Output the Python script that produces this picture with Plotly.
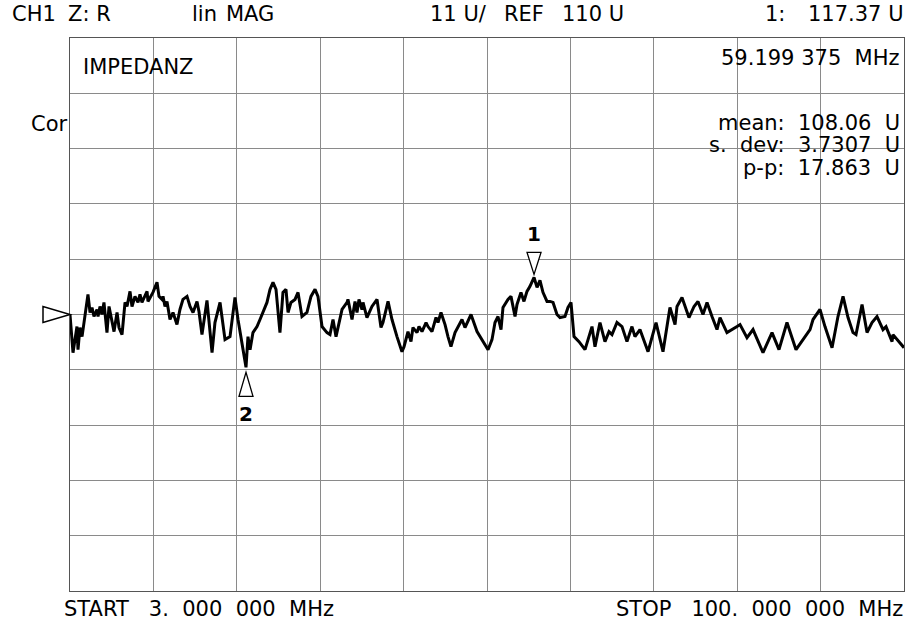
import plotly.graph_objects as go

# ---- data ----
freq_mhz = [
    3.00, 3.35, 3.81, 3.93, 4.16, 4.40, 5.09, 5.33, 5.56, 5.79, 6.14, 6.26, 6.49, 6.72, 6.95,
    7.30, 7.54, 7.88, 8.12, 8.47, 8.70, 9.05, 9.40, 9.63, 9.98, 10.21, 10.56, 10.91, 11.14,
    11.37, 11.96, 12.07, 12.65, 13.12, 13.35, 13.70, 13.82, 14.05, 14.28, 14.63, 14.98, 15.44,
    15.79, 16.14, 16.61, 16.96, 17.31, 17.77, 18.00, 18.35, 18.93,
    19.52, 19.86, 20.45, 21.03, 21.61, 22.19, 22.54, 23.47, 23.70, 23.94, 24.28, 24.75, 25.10,
    25.45, 25.91, 26.26, 26.61, 26.96, 27.42, 27.77, 28.12, 28.36, 28.70, 29.17, 29.52, 29.98,
    30.56, 31.03, 31.50, 31.84, 32.31, 32.89, 33.24, 33.59, 33.94, 34.64, 35.22,
    35.33, 35.80, 36.15, 36.38, 36.61, 36.96, 37.08, 37.54, 38.12, 38.71, 39.17, 39.40, 39.99,
    40.45, 41.03, 41.61, 41.85, 42.31, 42.66, 42.89, 43.36, 43.59, 43.94, 44.41, 44.64, 45.10,
    45.57, 45.80, 46.15, 46.62, 46.96, 47.31, 47.78, 48.36, 48.59, 48.94, 49.64, 50.34, 50.92,
    51.62,
    52.08, 52.43, 52.78, 53.13, 53.36, 53.94, 54.29, 54.76, 54.99, 55.45, 55.80, 56.15, 56.50,
    56.97, 57.32, 57.66, 58.01, 58.48, 58.83, 59.18, 59.64, 59.99, 60.57, 60.92, 61.27, 61.62,
    62.20, 62.90, 63.71, 64.06, 64.64,
    65.22, 65.69, 66.04, 66.62, 67.20, 67.78, 68.36, 68.71, 69.29, 70.23, 71.16, 71.97, 72.78,
    73.37, 73.60, 74.18, 74.99, 75.58, 76.04, 76.62, 77.09, 77.67, 78.25, 78.60, 79.41, 80.58,
    80.93, 81.74, 82.44, 83.60, 84.65, 85.46, 86.39, 87.44, 88.25, 89.07, 89.42, 90.23, 90.81,
    91.63, 92.32, 92.91, 93.49, 94.07, 94.42, 95.12, 95.70, 96.28, 96.86, 97.56, 97.91, 98.61,
    98.72, 100.00,
]
impedance_u = [
    110.0, 102.4, 107.6, 103.0, 107.4, 105.6, 114.0, 110.4, 111.4, 109.6, 111.0, 109.6, 111.6,
    110.0, 112.4, 106.4, 111.6, 109.0, 106.6, 110.4, 107.4, 106.0, 112.4, 111.6, 114.6, 111.6,
    113.6, 112.4, 114.0, 112.4, 114.6, 112.6, 114.4, 116.4, 113.6, 113.0, 113.6, 111.6, 112.6,
    109.0, 110.4, 108.0, 111.0, 113.0, 113.6, 111.6, 110.4, 112.6, 110.6, 106.0, 112.8,
    102.4, 108.4, 112.4, 105.0, 105.6, 113.4, 109.0, 99.5, 105.6, 103.0, 106.4, 107.6, 109.0,
    110.4, 112.4, 115.0, 116.4, 115.0, 106.4, 114.4, 115.0, 110.4, 112.4, 113.0, 114.4, 109.6,
    110.4, 113.6, 115.0, 113.6, 107.6, 106.4, 106.0, 109.0, 105.6, 111.0, 112.4,
    113.0, 109.0, 112.6, 110.4, 113.0, 111.0, 112.4, 109.4, 111.6, 113.0, 107.4, 108.4, 112.6,
    109.0, 105.6, 102.6, 103.6, 106.6, 104.6, 107.4, 106.4, 107.6, 106.6, 108.4, 107.6, 106.6,
    109.4, 108.4, 110.4, 108.0, 105.6, 103.6, 106.4, 108.4, 109.0, 107.4, 110.0, 106.6, 105.0,
    103.0,
    105.0, 108.4, 109.6, 107.0, 111.4, 113.0, 113.6, 109.6, 112.0, 114.4, 112.6, 114.6, 115.6,
    117.37, 115.4, 116.8, 114.4, 112.6, 112.6, 112.4, 110.0, 109.4, 109.6, 111.4, 112.4, 105.6,
    104.6, 103.0, 107.6, 103.6, 108.4,
    104.6, 106.6, 106.0, 108.4, 107.6, 104.6, 107.6, 105.6, 107.0, 102.6, 108.4, 102.6, 111.4,
    108.0, 111.6, 113.4, 109.4, 111.6, 112.6, 110.0, 112.4, 109.6, 107.0, 109.4, 106.4, 107.6,
    108.0, 105.4, 107.0, 102.4, 106.4, 103.0, 108.4, 103.0, 105.0, 107.0, 109.0, 111.0, 107.6,
    103.4, 109.6, 113.6, 109.4, 106.4, 106.0, 112.0, 106.4, 108.4, 109.6, 107.0, 107.6, 104.6,
    106.0, 103.4,
]

start_mhz = 3.0
stop_mhz = 100.0
ref_level_u = 110.0
scale_u_per_div = 11.0
n_div = 10

marker_labels = ["1", "2"]
marker_freqs = [56.97, 23.47]
marker_values = [117.37, 99.5]

header_texts = ["CH1", "Z: R", "lin", "MAG", "11 U/", "REF", "110 U", "1:", "117.37 U"]
stats_texts = ["mean:\u00a0 108.06\u00a0 U", "s.\u00a0 dev:\u00a0 3.7307\u00a0 U", "p-p:\u00a0 17.863\u00a0 U"]

# ---- layout geometry ----
W, H = 911, 629
L, R, T, B = 70, 7, 38, 38
PW, PH = W - L - R, H - T - B


def px(x):
    return (x - L) / PW


def py(y):
    return (H - B - y) / PH


FONT = "DejaVu Sans"
FS = 21

y_bottom = ref_level_u - scale_u_per_div * n_div / 2
y_top = ref_level_u + scale_u_per_div * n_div / 2

fig = go.Figure()
fig.add_trace(go.Scatter(
    x=freq_mhz, y=impedance_u, mode="lines",
    line=dict(color="black", width=3),
    hoverinfo="skip", showlegend=False,
))

shapes = []
# marker triangles (pixel-sized, anchored at marker data points)
tri_paths = {
    "1": "M -7 25 L 7 25 L 0 3 Z",
    "2": "M -7 -29 L 7 -29 L 0 -5 Z",
}
for lab, f, v in zip(marker_labels, marker_freqs, marker_values):
    shapes.append(dict(
        type="path", xref="x", yref="y", xsizemode="pixel", ysizemode="pixel",
        xanchor=f, yanchor=v, path=tri_paths[lab],
        line=dict(color="black", width=1.3), fillcolor="white", layer="above",
    ))
# reference level arrow at left edge
shapes.append(dict(
    type="path", xref="paper", yref="paper", xsizemode="pixel", ysizemode="pixel",
    xanchor=0, yanchor=(ref_level_u - y_bottom) / (y_top - y_bottom),
    path="M -27 8 L -27 -8 L 0 0 Z",
    line=dict(color="black", width=1.5), fillcolor="white", layer="above",
))

annotations = []


def txt(s, x, y, xanchor="left", size=FS, bold=False):
    annotations.append(dict(
        text=("<b>%s</b>" % s) if bold else s, x=px(x), y=py(y),
        xref="paper", yref="paper", xanchor=xanchor, yanchor="middle",
        showarrow=False, font=dict(family=FONT, size=size, color="black"),
    ))


header_x = [10, 66, 190, 224, 428, 502, 560, 763, None]
for s, x in zip(header_texts, header_x):
    if x is None:
        txt(s, 906, 14, xanchor="right")
    else:
        txt(s, x, 14)

txt("IMPEDANZ", 81, 67)
txt("59.199\u00a0375\u00a0 MHz", 902, 58, xanchor="right")
txt("Cor", 29, 124)
for s, y in zip(stats_texts, [123, 145, 168]):
    txt(s, 902, y, xanchor="right")
txt("START\u00a0\u00a0 3.\u00a0 000\u00a0 000\u00a0 MHz", 62, 609)
txt("STOP\u00a0\u00a0 100.\u00a0 000\u00a0 000\u00a0 MHz", 905, 609, xanchor="right")

# marker numbers
for lab, f, v, shift in zip(marker_labels, marker_freqs, marker_values, [43, -47]):
    annotations.append(dict(
        text="<b>%s</b>" % lab, x=f, y=v, xref="x", yref="y", yshift=shift,
        showarrow=False, font=dict(family=FONT, size=20, color="black"),
    ))

grid_color = "#8a8a8a"
fig.update_layout(
    width=W, height=H,
    margin=dict(l=L, r=R, t=T, b=B, pad=0),
    paper_bgcolor="white", plot_bgcolor="white",
    shapes=shapes, annotations=annotations,
    xaxis=dict(
        range=[start_mhz, stop_mhz], tick0=start_mhz, dtick=(stop_mhz - start_mhz) / n_div,
        showgrid=True, gridcolor=grid_color, gridwidth=1, zeroline=False,
        showticklabels=False, ticks="", showline=True, linecolor="#555", linewidth=1, mirror=True,
        fixedrange=True,
    ),
    yaxis=dict(
        range=[y_bottom, y_top], tick0=y_bottom, dtick=scale_u_per_div,
        showgrid=True, gridcolor=grid_color, gridwidth=1, zeroline=False,
        showticklabels=False, ticks="", showline=True, linecolor="#555", linewidth=1, mirror=True,
        fixedrange=True,
    ),
)

fig.write_html(
    "out.html",
    config={"displayModeBar": False},
    post_script="document.body.style.margin='0px';document.body.style.padding='0px';",
)
